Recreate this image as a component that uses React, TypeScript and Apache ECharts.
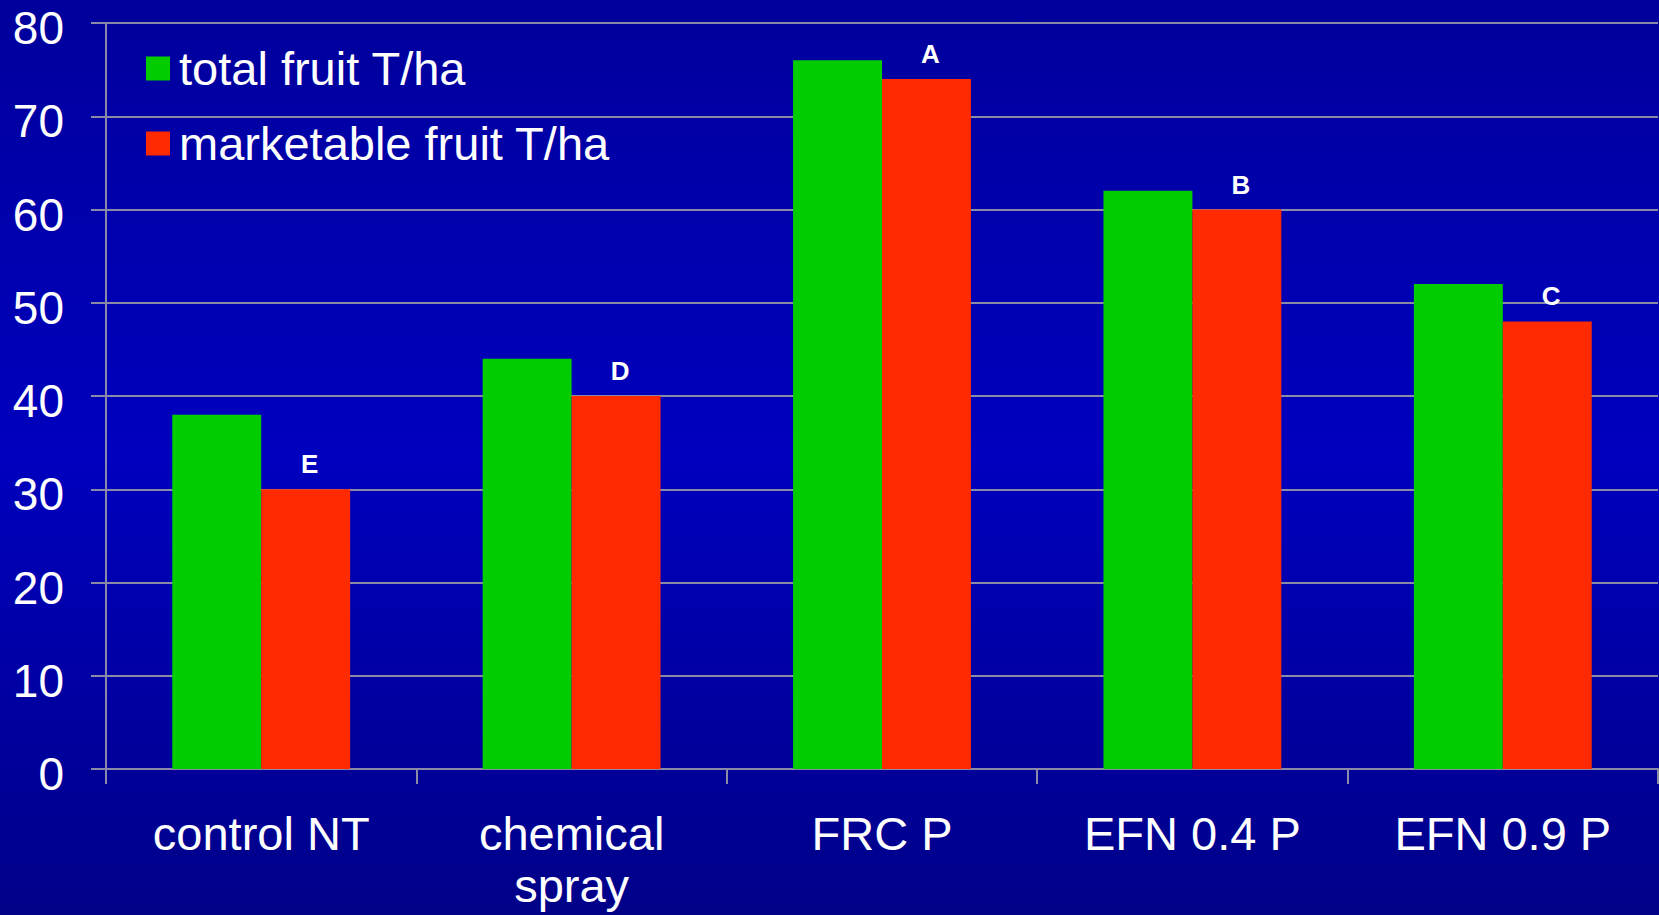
import React, { useEffect, useRef } from "react";
import * as echarts from "echarts";

const categories = ["control NT", "chemical\nspray", "FRC P", "EFN 0.4 P", "EFN 0.9 P"];
const totalFruit = [38, 44, 76, 62, 52];
const marketableFruit = [30, 40, 74, 60, 48];
const significanceLetters = ["E", "D", "A", "B", "C"];
const seriesNames = ["total fruit T/ha", "marketable fruit T/ha"];

export default function App() {
  const ref = useRef<HTMLDivElement>(null);
  useEffect(() => {
    document.body.style.margin = "0";
    const chart = echarts.init(ref.current!, null, { renderer: "svg" });
    const font = "Liberation Sans, Arial, sans-serif";
    chart.setOption({
      animation: false,
      backgroundColor: {
        type: "linear",
        x: 0, y: 0, x2: 0, y2: 1,
        colorStops: [
          { offset: 0, color: "#00009c" },
          { offset: 0.5, color: "#0000be" },
          { offset: 1, color: "#000088" },
        ],
      },
      grid: { left: 106, right: 1, top: 23, bottom: 146 },
      legend: {
        orient: "vertical",
        left: 141,
        top: 40,
        itemWidth: 24,
        itemHeight: 24,
        itemGap: 28,
        icon: "rect",
        textStyle: {
          color: "#ffffff",
          fontFamily: font,
          fontSize: 47,
          padding: [0, 0, 0, 4],
        },
        data: seriesNames,
      },
      xAxis: {
        type: "category",
        data: categories,
        axisLine: { lineStyle: { color: "#8a8aa8", width: 2 } },
        axisTick: { show: true, length: 15, lineStyle: { color: "#8a8aa8", width: 2 } },
        axisLabel: {
          color: "#ffffff",
          fontFamily: font,
          fontSize: 47,
          lineHeight: 52,
          margin: 38,
          interval: 0,
        },
      },
      yAxis: {
        type: "value",
        min: 0,
        max: 80,
        interval: 10,
        axisLine: { show: true, lineStyle: { color: "#8a8aa8", width: 2 } },
        axisTick: { show: true, length: 15, lineStyle: { color: "#8a8aa8", width: 2 } },
        splitLine: { show: true, lineStyle: { color: "#8a8aa8", width: 2 } },
        axisLabel: {
          color: "#ffffff",
          fontFamily: font,
          fontSize: 46,
          verticalAlign: "top",
          lineHeight: 10,
          margin: 42,
        },
      },
      series: [
        {
          name: seriesNames[0],
          type: "bar",
          data: totalFruit,
          itemStyle: { color: "#00cc00" },
          barGap: "0%",
          barCategoryGap: "42.7%",
        },
        {
          name: seriesNames[1],
          type: "bar",
          data: marketableFruit,
          itemStyle: { color: "#ff2a00" },
          barGap: "0%",
          barCategoryGap: "42.7%",
          label: {
            show: true,
            position: "top",
            distance: 12,
            offset: [4, 0],
            color: "#ffffff",
            fontFamily: font,
            fontSize: 26,
            fontWeight: "bold",
            formatter: (p: any) => significanceLetters[p.dataIndex],
          },
        },
      ],
    });
    return () => chart.dispose();
  }, []);
  return <div ref={ref} style={{ width: 1659, height: 915 }} />;
}
